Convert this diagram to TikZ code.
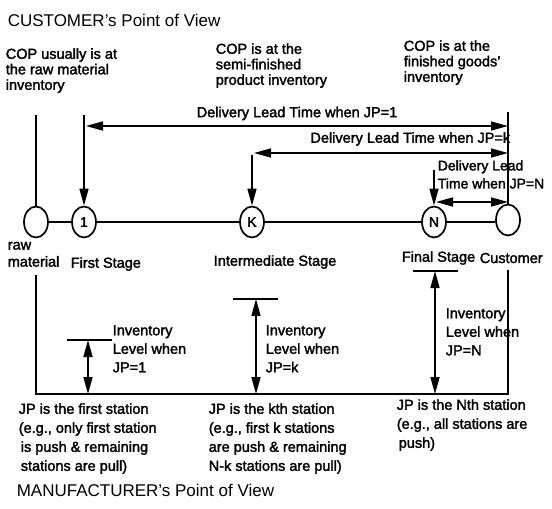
\documentclass[tikz,border=0pt]{standalone}
\usepackage{fontspec}
\setmainfont{Liberation Sans}[BoldFont={Liberation Sans},BoldFeatures={FakeBold=2}]
\usetikzlibrary{arrows.meta,shapes.geometric}

\begin{document}
\begin{tikzpicture}[x=1pt,y=-1pt,line width=1.6pt,
  stage/.style={ellipse, draw, line width=1.7pt, minimum width=24pt, minimum height=31pt, inner sep=0pt, font=\fontsize{14}{14}\selectfont\bfseries},
  txt/.style={anchor=north west, inner sep=0pt, align=left, font=\fontsize{14.5}{15.5}\selectfont\bfseries},
  lbl/.style={anchor=west, inner sep=0pt, font=\fontsize{14.5}{16}\selectfont\bfseries},
  ttl/.style={anchor=west, inner sep=0pt, font=\fontsize{17}{20}\selectfont},
  onearr/.style={-{Triangle[length=17pt,width=9pt]}},
  twoarr/.style={{Triangle[length=17pt,width=9pt]}-{Triangle[length=17pt,width=9pt]}}]
\useasboundingbox (0,0) rectangle (552,509);
\node[ttl](ttlC) at (7,20) {CUSTOMER's Point of View};
\node[ttl](ttlM) at (16,490) {MANUFACTURER's Point of View};
\node[txt](copR) at (5,47.5) {COP usually is at\\the raw material\\inventory};
\node[txt](copS) at (215,42.5) {COP is at the\\semi-finished\\product inventory};
\node[txt](copF) at (403,39.5) {COP is at the\\finished goods'\\inventory};
% stages on the line
\node[stage](raw) at (36,222){};
\node[stage](st1) at (84,222){1};
\node[stage](stK) at (252,222){K};
\node[stage](stN) at (434,222){N};
\node[stage](cus) at (508,220){};
\draw (raw) -- (st1) -- (stK) -- (stN);
\draw (stN.east) -- (stN.east -| cus.west);
\node[txt, font=\fontsize{14.5}{17}\selectfont\bfseries](rawL) at (7,241) {raw\\material};
\node[lbl](st1L) at (70,264) {First Stage};
\node[lbl](stKL) at (213,262) {Intermediate Stage};
\node[lbl, anchor=east](stNL) at (476,258) {Final Stage};
\node[lbl](cusL) at (479,258) {Customer};
% delivery lead times
\coordinate (rawT) at (36,115);
\coordinate (st1T) at (84,115);
\coordinate (stKT) at (252,155);
\coordinate (stNT) at (434,170);
\coordinate (cusT) at (508,112);
\draw (rawT) -- (raw.north);
\draw[onearr] (st1T) -- (st1.north);
\draw[onearr] (stKT) -- (stK.north);
\draw[onearr] (stNT) -- (stN.north);
\draw (cusT) -- (cus.north);
\coordinate (d1L) at (86,126);
\coordinate (d1R) at (508,126);
\draw[twoarr] (d1L) -- node[midway, above=5pt, inner sep=0pt, font=\fontsize{14.5}{16}\selectfont\bfseries] {Delivery Lead Time when JP=1} (d1R);
\coordinate (dkL) at (254,153);
\coordinate (dkR) at (508,153);
\draw[twoarr] (dkL) -- (dkR);
\node[lbl, anchor=east](dkT) at (511,139) {Delivery Lead Time when JP=k};
\coordinate (dnL) at (436,202);
\coordinate (dnR) at (508,202);
\draw[twoarr] (dnL) -- (dnR);
\node[txt, font=\fontsize{14}{18}\selectfont\bfseries](dnT) at (437,159.5) {Delivery Lead\\Time when JP=N};
% inventory levels
\coordinate (bl) at (36,275);
\coordinate (bll) at (36,394);
\coordinate (brr) at (508,394);
\coordinate (br) at (508,270);
\draw (bl) -- (bll) -- (brr) -- (br);
\coordinate (i1a) at (67,340);
\coordinate (i1b) at (112,340);
\coordinate (i1T) at (88,340);
\coordinate (i1B) at (88,394);
\draw (i1a) -- (i1b);
\draw[twoarr] (i1T) -- (i1B);
\coordinate (iKa) at (233,299);
\coordinate (iKb) at (278,299);
\coordinate (iKT) at (256,299);
\coordinate (iKB) at (256,394);
\draw (iKa) -- (iKb);
\draw[twoarr] (iKT) -- (iKB);
\coordinate (iNa) at (413,271);
\coordinate (iNb) at (458,271);
\coordinate (iNT) at (435,271);
\coordinate (iNB) at (435,394);
\draw (iNa) -- (iNb);
\draw[twoarr] (iNT) -- (iNB);
\node[txt, font=\fontsize{14.5}{18.5}\selectfont\bfseries](inv1) at (112,324.5) {Inventory\\Level when\\JP=1};
\node[txt, font=\fontsize{14.5}{18.5}\selectfont\bfseries](invK) at (265,324.5) {Inventory\\Level when\\JP=k};
\node[txt, font=\fontsize{14.5}{18.5}\selectfont\bfseries](invN) at (445,307.5) {Inventory\\Level when\\JP=N};
% where the JP sits
\node[txt, font=\fontsize{14.5}{19}\selectfont\bfseries](jp1) at (18,402.5) {JP is the first station\\(e.g., only first station\\\hspace{2pt}is push \& remaining\\\hspace{2pt}stations are pull)};
\node[txt, font=\fontsize{14.5}{19}\selectfont\bfseries](jpK) at (208,402.5) {JP is the kth station\\(e.g., first k stations\\are push \& remaining\\N-k stations are pull)};
\node[txt, font=\fontsize{14.5}{19}\selectfont\bfseries](jpN) at (396,398.5) {JP is the Nth station\\(e.g., all stations are\\\hspace{2pt}push)};
\end{tikzpicture}
\end{document}
